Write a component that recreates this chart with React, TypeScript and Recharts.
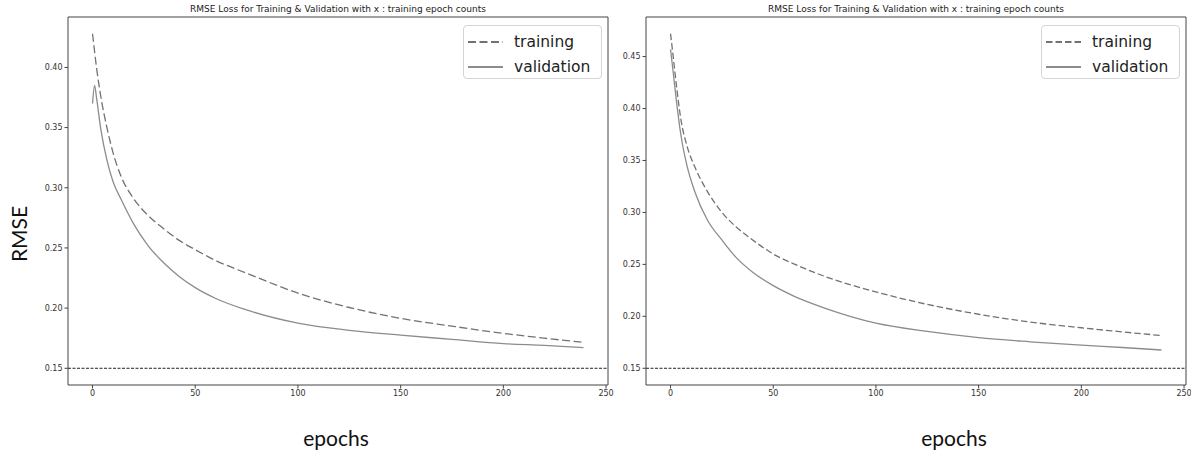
import { LineChart, Line, XAxis, YAxis, ReferenceLine, Legend } from "recharts";

const TITLE = "RMSE Loss for Training & Validation with x : training epoch counts";
const X_TICKS = [0, 50, 100, 150, 200, 250];
const BASELINE = 0.15;
const LAST_EPOCH = 239;

// left run
const LEFT_EPOCHS = [0, 1, 2, 4, 7, 10, 14, 20, 27, 35, 42, 50, 60, 75, 100, 125, 150, 175, 200, 220, 239];
const LEFT_TRAINING = [0.428, 0.413, 0.399, 0.376, 0.35, 0.329, 0.309, 0.291, 0.277, 0.2655, 0.2565, 0.2485, 0.2395, 0.229, 0.2125, 0.2005, 0.1915, 0.185, 0.179, 0.175, 0.1715];
const LEFT_VALIDATION = [0.37, 0.385, 0.374, 0.349, 0.323, 0.305, 0.29, 0.27, 0.252, 0.237, 0.2265, 0.217, 0.208, 0.1985, 0.1875, 0.1815, 0.1775, 0.174, 0.1705, 0.169, 0.1672];
const LEFT_Y_TICKS = [0.15, 0.2, 0.25, 0.3, 0.35, 0.4];

// right run
const RIGHT_EPOCHS = [0, 1, 3, 5, 8, 12, 18, 25, 32, 40, 50, 60, 75, 100, 125, 150, 175, 200, 220, 239];
const RIGHT_TRAINING = [0.472, 0.455, 0.42, 0.39, 0.364, 0.343, 0.32, 0.3, 0.286, 0.2735, 0.26, 0.2505, 0.2385, 0.2235, 0.2115, 0.202, 0.1945, 0.189, 0.185, 0.1815];
const RIGHT_VALIDATION = [0.457, 0.44, 0.405, 0.375, 0.345, 0.319, 0.2925, 0.2735, 0.2565, 0.2425, 0.2295, 0.2195, 0.208, 0.1935, 0.1855, 0.1795, 0.1755, 0.1722, 0.17, 0.1676];
const RIGHT_Y_TICKS = [0.15, 0.2, 0.25, 0.3, 0.35, 0.4, 0.45];

const TICK_FONT = { fill: "#333", fontSize: 8, fontFamily: "DejaVu Sans" };
const SPINE = "#444";
const TRAIN_COLOR = "#727272";
const VAL_COLOR = "#8c8c8c";

const xDomain = [-LAST_EPOCH * 0.05, LAST_EPOCH * 1.05];

function LegendBox({ dash }: { dash: string }) {
  const row = (label: string, color: string, dashed: boolean) => (
    <div style={{ display: "flex", alignItems: "center", height: 25 }}>
      <svg width={46} height={10} style={{ marginLeft: 4 }}>
        <line x1={0} y1={5} x2={35} y2={5} stroke={color} strokeWidth={2} strokeDasharray={dashed ? dash : undefined} />
      </svg>
      <span style={{ fontFamily: "DejaVu Sans", fontSize: 15.5, color: "#222" }}>{label}</span>
    </div>
  );
  return (
    <div
      style={{
        width: 139,
        height: 54,
        border: "1px solid #d4d4d4",
        borderRadius: 4,
        background: "#fff",
        paddingTop: 3,
        boxSizing: "border-box",
      }}
    >
      {row("training", TRAIN_COLOR, true)}
      {row("validation", VAL_COLOR, false)}
    </div>
  );
}

function LossPanel({
  left,
  epochs,
  training,
  validation,
  yTicks,
  dash,
}: {
  left: number;
  epochs: number[];
  training: number[];
  validation: number[];
  yTicks: number[];
  dash: string;
}) {
  const data = epochs.map((e, i) => ({ epoch: e, training: training[i], validation: validation[i] }));
  const lo = Math.min(BASELINE, ...training, ...validation);
  const hi = Math.max(...training, ...validation);
  const pad = (hi - lo) * 0.05;
  const yDomain = [lo - pad, hi + pad];

  return (
    <div style={{ position: "absolute", left, top: 0, width: 616, height: 452 }}>
      <div
        style={{
          position: "absolute",
          top: 3,
          left: 68,
          width: 540,
          textAlign: "center",
          fontFamily: "DejaVu Sans",
          fontSize: 9,
          lineHeight: "12px",
          color: "#222",
        }}
      >
        {TITLE}
      </div>
      <LineChart width={616} height={410} data={data} margin={{ top: 16, right: 7, bottom: 5, left: 0 }}>
        <XAxis
          dataKey="epoch"
          type="number"
          domain={xDomain}
          ticks={X_TICKS}
          allowDataOverflow
          height={20}
          tick={TICK_FONT}
          tickSize={3.5}
          tickLine={{ stroke: SPINE }}
          axisLine={{ stroke: SPINE }}
        />
        <XAxis
          xAxisId="top"
          orientation="top"
          type="number"
          dataKey="epoch"
          domain={xDomain}
          allowDataOverflow
          height={1}
          tick={false}
          tickLine={false}
          axisLine={{ stroke: SPINE }}
        />
        <YAxis
          type="number"
          domain={yDomain}
          ticks={yTicks}
          allowDataOverflow
          width={68}
          tick={TICK_FONT}
          tickSize={3.5}
          tickLine={{ stroke: SPINE }}
          axisLine={{ stroke: SPINE }}
          tickFormatter={(v: number) => v.toFixed(2)}
        />
        <YAxis
          yAxisId="right"
          orientation="right"
          type="number"
          domain={yDomain}
          allowDataOverflow
          width={1}
          tick={false}
          tickLine={false}
          axisLine={{ stroke: SPINE }}
        />
        <ReferenceLine y={BASELINE} stroke="#222" strokeWidth={1} strokeDasharray="3 1.5" />
        <Line
          dataKey="training"
          type="monotone"
          stroke={TRAIN_COLOR}
          strokeWidth={1.3}
          strokeDasharray={dash}
          dot={false}
          isAnimationActive={false}
        />
        <Line
          dataKey="validation"
          type="monotone"
          stroke={VAL_COLOR}
          strokeWidth={1.3}
          dot={false}
          isAnimationActive={false}
        />
        <Legend
          verticalAlign="middle"
          align="center"
          content={() => <LegendBox dash={dash} />}
          wrapperStyle={{ top: 25, right: 14, left: "auto", bottom: "auto", width: "auto" }}
        />
      </LineChart>
    </div>
  );
}

const bigLabel = { position: "absolute" as const, fontFamily: "Lato", fontSize: 21, color: "#111" };

export default function App() {
  return (
    <div style={{ position: "absolute", left: 0, top: 0, width: 1191, height: 452, background: "#fff", overflow: "hidden" }}>
      <LossPanel left={0} epochs={LEFT_EPOCHS} training={LEFT_TRAINING} validation={LEFT_VALIDATION} yTicks={LEFT_Y_TICKS} dash="8 3.5" />
      <LossPanel left={578} epochs={RIGHT_EPOCHS} training={RIGHT_TRAINING} validation={RIGHT_VALIDATION} yTicks={RIGHT_Y_TICKS} dash="6.5 3" />
      <div
        style={{
          ...bigLabel,
          left: 18,
          top: 234,
          transform: "translate(-50%, -50%) rotate(-90deg)",
        }}
      >
        RMSE
      </div>
      <div style={{ ...bigLabel, left: 336, top: 437, transform: "translate(-50%, -50%)" }}>epochs</div>
      <div style={{ ...bigLabel, left: 954, top: 437, transform: "translate(-50%, -50%)" }}>epochs</div>
    </div>
  );
}
